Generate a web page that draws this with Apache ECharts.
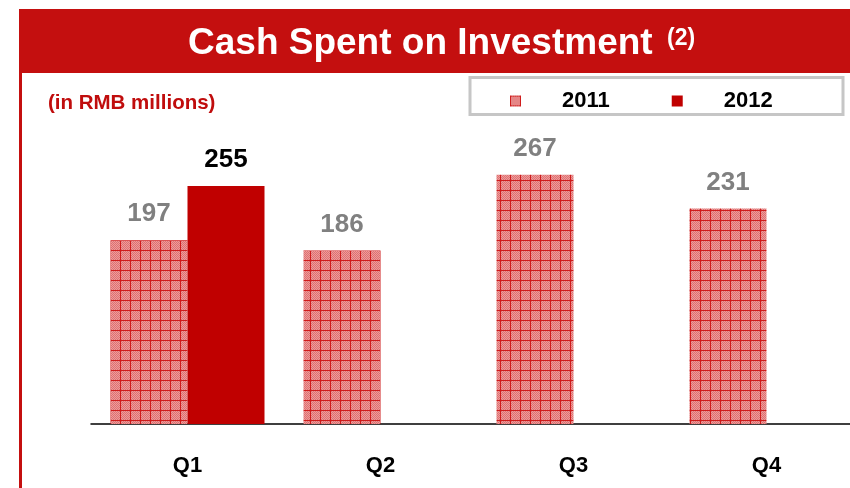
<!DOCTYPE html>
<html>
<head>
<meta charset="utf-8">
<script src="https://cdn.jsdelivr.net/npm/echarts@6/dist/echarts.min.js"></script>
<style>
html,body{margin:0;padding:0;background:#fff;overflow:hidden;width:850px;height:488px;}
#chart{width:880px;height:488px;}
</style>
</head>
<body>
<div id="chart"></div>
<script>
const categories = ['Q1', 'Q2', 'Q3', 'Q4'];
const seriesNames = ['2011', '2012'];
const values2011 = [197, 186, 267, 231];
const values2012 = [255, null, null, null];
const titleText = 'Cash Spent on Investment';
const titleNote = '(2)';
const unitText = '(in RMB millions)';

const FONT = '"Liberation Sans", Arial, sans-serif';
const RED = '#c40f0f';

// checkered/grid pattern for 2011 bars
function makeTile() {
  const c = document.createElement('canvas');
  c.width = 10; c.height = 10;
  const g = c.getContext('2d');
  g.fillStyle = '#ec9c9c';
  g.fillRect(0, 0, 10, 10);
  g.fillStyle = '#df7070';
  for (let y = 0; y < 10; y++) {
    for (let x = 0; x < 10; x++) {
      if ((x + y) % 2 === 0) g.fillRect(x, y, 1, 1);
    }
  }
  g.fillStyle = '#cf1c1c';
  g.fillRect(0, 0, 10, 1);
  g.fillRect(0, 0, 1, 10);
  return c;
}
const pattern = { image: makeTile(), repeat: 'repeat' };

const chart = echarts.init(document.getElementById('chart'), null, { renderer: 'canvas' });
chart.setOption({
  animation: false,
  backgroundColor: '#fff',
  textStyle: { fontFamily: FONT },
  graphic: [
    { type: 'rect', z: 0, shape: { x: 19, y: 9, width: 860, height: 64 }, style: { fill: RED } },
    { type: 'rect', z: 0, shape: { x: 19, y: 73, width: 3, height: 420 }, style: { fill: RED } },
    { type: 'rect', z: 0, shape: { x: 470, y: 77.5, width: 373, height: 37 },
      style: { fill: '#fff', stroke: '#c6c6c6', lineWidth: 3 } },
    { type: 'text', z: 5, style: { text: titleText, x: 188, y: 44, verticalAlign: 'middle', align: 'left',
      fill: '#fff', font: 'bold 37px ' + FONT } },
    { type: 'text', z: 5, style: { text: titleNote, x: 667, y: 39, verticalAlign: 'middle', align: 'left',
      fill: '#fff', font: 'bold 23px ' + FONT } },
    { type: 'text', z: 5, style: { text: unitText, x: 48, y: 103, verticalAlign: 'middle', align: 'left',
      fill: '#c00d0d', font: 'bold 20.5px ' + FONT } }
  ],
  legend: {
    data: seriesNames,
    left: 505,
    top: 85,
    itemWidth: 11,
    itemHeight: 11,
    itemGap: 62,
    icon: 'rect',
    textStyle: { fontSize: 22, fontWeight: 'bold', color: '#000', fontFamily: FONT, padding: [0, 0, 0, 36] }
  },
  grid: { left: 91, top: 144, width: 772, height: 280, containLabel: false },
  xAxis: {
    type: 'category',
    data: categories,
    axisLine: { lineStyle: { color: '#000', width: 1.5 } },
    axisTick: { show: false },
    axisLabel: { margin: 31, fontSize: 22, fontWeight: 'bold', color: '#000', fontFamily: FONT }
  },
  yAxis: { type: 'value', min: 0, max: 300, show: false, splitLine: { show: false } },
  series: [
    {
      name: seriesNames[0], type: 'bar', data: values2011, barWidth: 77, barGap: '0%',
      itemStyle: { color: pattern },
      label: { show: true, position: 'top', distance: 13, fontSize: 26, fontWeight: 'bold', color: '#808080', fontFamily: FONT }
    },
    {
      name: seriesNames[1], type: 'bar', data: values2012, barWidth: 77,
      itemStyle: { color: '#c00000' },
      label: { show: true, position: 'top', distance: 13, fontSize: 26, fontWeight: 'bold', color: '#000', fontFamily: FONT }
    }
  ]
});
</script>
</body>
</html>
